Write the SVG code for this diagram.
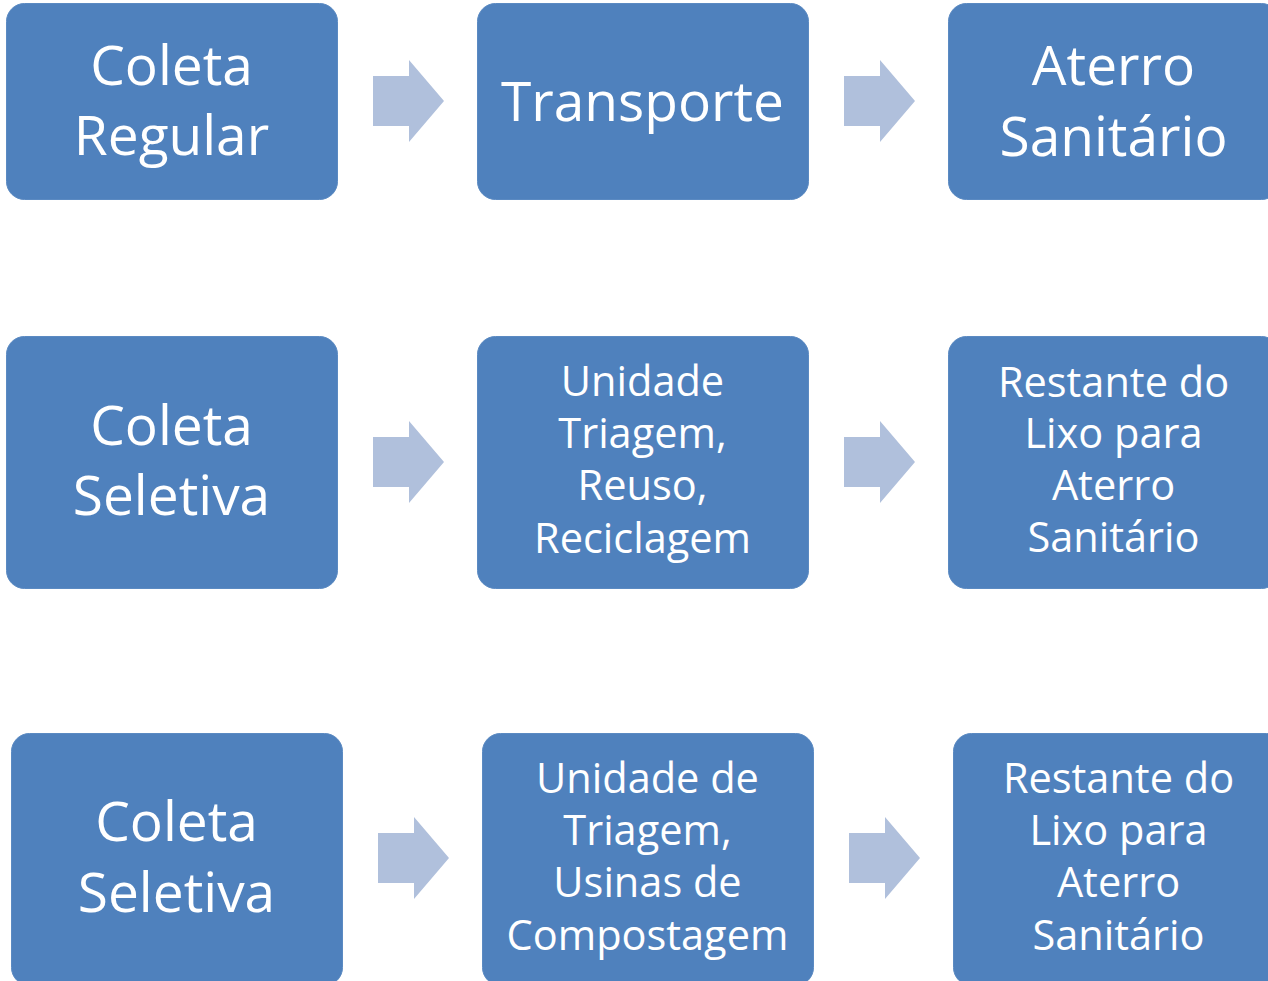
<svg xmlns="http://www.w3.org/2000/svg" width="1268" height="981" viewBox="0 0 1268 981">
<style>
.box{fill:#4F81BD;stroke:#5B8AC2;stroke-width:1}
.arr{fill:#B0C0DC}
.t{font-family:"Open Sans","Noto Sans",sans-serif;fill:#FFFFFF;text-anchor:middle}
.big{font-size:55px}
.sm{font-size:41.5px}
</style>
<rect width="1268" height="981" fill="#FFFFFF"/>
<g id="connectors">
<polygon class="arr" points="373,76 409,76 409,60 444,101 409,142 409,126 373,126"/>
<polygon class="arr" points="844,76 880,76 880,60 915,101 880,142 880,126 844,126"/>
<polygon class="arr" points="373,437 409,437 409,421 444,462 409,503 409,487 373,487"/>
<polygon class="arr" points="844,437 880,437 880,421 915,462 880,503 880,487 844,487"/>
<polygon class="arr" points="378,833 414,833 414,817 449,858 414,899 414,883 378,883"/>
<polygon class="arr" points="849,833 885,833 885,817 920,858 885,899 885,883 849,883"/>
</g>
<g id="n1"><rect class="box" x="6.5" y="3.5" width="331" height="196" rx="18"/>
<text class="t big" x="171.5" y="85">Coleta</text><text class="t big" x="171.5" y="155">Regular</text></g>
<g id="n2"><rect class="box" x="477.5" y="3.5" width="331" height="196" rx="18"/>
<text class="t big" x="642.5" y="121">Transporte</text></g>
<g id="n3"><rect class="box" x="948.5" y="3.5" width="331" height="196" rx="18"/>
<text class="t big" x="1113.5" y="85">Aterro</text><text class="t big" x="1113.5" y="156">Sanitário</text></g>
<g id="n4"><rect class="box" x="6.5" y="336.5" width="331" height="252" rx="18"/>
<text class="t big" x="171.5" y="445">Coleta</text><text class="t big" x="171.5" y="515">Seletiva</text></g>
<g id="n5"><rect class="box" x="477.5" y="336.5" width="331" height="252" rx="18"/>
<text class="t sm" x="642.5" y="396">Unidade</text><text class="t sm" x="642.5" y="448">Triagem,</text><text class="t sm" x="642.5" y="500">Reuso,</text><text class="t sm" x="642.5" y="553">Reciclagem</text></g>
<g id="n6"><rect class="box" x="948.5" y="336.5" width="331" height="252" rx="18"/>
<text class="t sm" x="1113.5" y="397">Restante do</text><text class="t sm" x="1113.5" y="448">Lixo para</text><text class="t sm" x="1113.5" y="500">Aterro</text><text class="t sm" x="1113.5" y="552">Sanitário</text></g>
<g id="n7"><rect class="box" x="11.5" y="733.5" width="331" height="252" rx="18"/>
<text class="t big" x="176.5" y="841">Coleta</text><text class="t big" x="176.5" y="912">Seletiva</text></g>
<g id="n8"><rect class="box" x="482.5" y="733.5" width="331" height="252" rx="18"/>
<text class="t sm" x="647.5" y="793">Unidade de</text><text class="t sm" x="647.5" y="845">Triagem,</text><text class="t sm" x="647.5" y="897">Usinas de</text><text class="t sm" x="647.5" y="950">Compostagem</text></g>
<g id="n9"><rect class="box" x="953.5" y="733.5" width="331" height="252" rx="18"/>
<text class="t sm" x="1118.5" y="793">Restante do</text><text class="t sm" x="1118.5" y="845">Lixo para</text><text class="t sm" x="1118.5" y="897">Aterro</text><text class="t sm" x="1118.5" y="950">Sanitário</text></g>
</svg>
